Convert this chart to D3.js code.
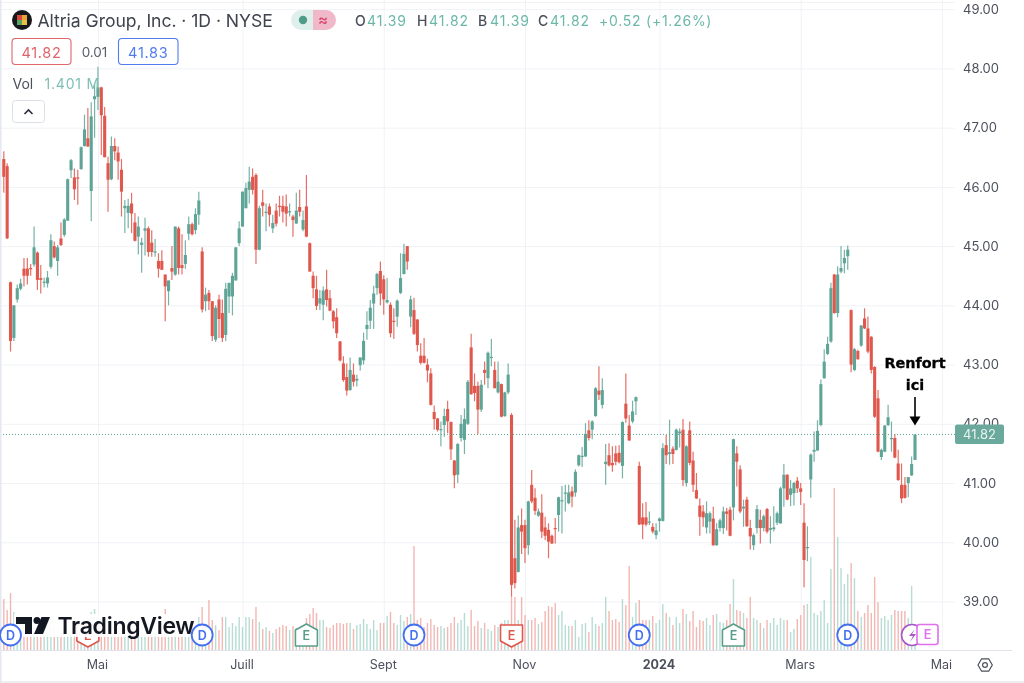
<!DOCTYPE html>
<html><head><meta charset="utf-8">
<script src="https://cdnjs.cloudflare.com/ajax/libs/d3/7.8.5/d3.min.js"></script>
<style>html,body{margin:0;padding:0;background:#fff;overflow:hidden}svg{display:block;filter:blur(0.4px)}text{font-family:Inter,"Noto Sans",sans-serif}</style>
</head><body><svg id="c" width="1024" height="683"></svg>
<script>
const opens=[46.47,46.35,44.39,43.45,44.1,44.28,44.62,44.62,44.63,44.69,44.89,44.46,44.38,44.37,44.65,45.0,44.75,45.13,45.19,45.43,
46.28,46.16,46.16,46.3,46.69,46.82,45.93,47.48,47.52,47.68,47.2,46.4,46.13,46.69,46.58,46.29,45.64,45.56,45.72,45.4,
45.16,45.02,45.26,45.3,45.06,44.9,44.75,44.75,44.52,44.24,44.63,44.52,45.3,44.68,44.7,45.21,45.37,45.27,45.53,44.91,
44.07,44.21,44.07,43.42,44.1,43.87,43.5,44.15,44.15,44.42,45.05,45.33,45.64,45.95,46.17,46.2,44.94,45.74,45.56,45.67,
45.3,45.6,45.68,45.68,45.67,45.57,45.5,45.38,45.66,45.28,45.67,45.05,44.5,44.27,44.03,44.01,44.27,44.12,43.9,43.8,
43.39,43.02,42.79,42.57,42.83,42.73,42.99,43.07,43.6,43.74,44.03,44.29,44.58,44.44,44.05,44.01,43.74,43.81,44.21,44.53,
45.0,43.81,43.92,43.76,43.15,43.15,43.0,42.85,42.2,42.09,41.9,41.98,42.25,42.03,41.38,41.14,41.76,41.73,42.0,43.29,
42.64,42.64,42.24,42.91,42.77,43.11,42.91,42.53,42.67,42.13,42.53,42.15,39.73,39.5,40.29,40.29,39.95,40.97,40.75,40.45,
40.5,40.25,40.21,40.11,40.24,40.46,40.7,40.82,40.66,40.86,40.84,41.3,41.44,41.45,41.89,41.9,42.13,42.56,42.32,41.32,
41.47,41.34,41.5,41.51,41.29,42.34,41.97,42.04,42.38,41.29,40.42,40.42,40.33,40.26,40.12,40.36,40.36,41.64,41.49,41.58,
41.56,41.84,41.9,41.0,41.89,41.38,40.88,40.62,40.52,40.25,40.35,40.4,39.95,40.24,40.24,40.52,40.55,40.59,41.5,41.23,
40.57,40.72,40.24,39.95,40.24,40.38,40.24,40.56,40.21,40.22,40.33,40.32,40.91,41.14,40.8,40.83,41.04,40.91,40.33,39.9,
41.06,41.53,41.55,41.98,42.77,43.18,43.39,44.52,43.87,44.57,44.71,44.83,43.92,42.91,43.23,43.32,43.78,43.61,43.47,42.96,
42.43,41.44,41.53,41.98,41.74,41.76,41.33,40.97,40.97,41.0,41.13,41.39];
const highs=[46.6,46.4,44.4,44.0,44.35,44.45,44.8,44.8,44.7,45.33,44.91,44.68,44.47,44.58,45.2,45.08,45.02,45.4,45.47,46.14,
46.47,46.31,46.29,46.68,47.22,47.33,47.43,47.75,48.03,47.69,47.35,46.51,46.85,46.82,46.68,46.47,45.78,45.8,45.9,45.56,
45.5,45.14,45.48,45.33,45.27,45.12,44.88,44.93,44.52,44.42,45.0,45.33,45.33,45.2,45.1,45.5,45.4,45.64,45.92,44.98,
44.3,44.26,44.07,44.0,44.18,44.1,44.38,44.38,44.55,44.98,45.42,45.92,46.07,46.34,46.31,46.23,45.68,45.95,45.72,45.72,
45.53,45.72,45.85,45.85,45.87,45.72,45.53,45.9,45.95,45.6,46.2,45.06,44.57,44.5,44.26,44.32,44.6,44.26,43.92,43.95,
43.4,43.14,43.02,43.12,43.02,42.83,43.12,43.54,43.9,44.09,44.33,44.55,44.74,44.51,44.46,44.05,43.95,44.1,44.88,45.04,
45.0,44.16,44.13,43.77,43.36,43.45,43.1,42.94,42.31,42.1,42.04,42.26,42.39,42.04,41.39,41.67,42.15,42.26,42.74,43.52,
42.85,42.71,42.74,43.05,43.22,43.43,43.05,43.05,42.68,42.54,43.02,42.18,40.38,40.45,40.57,40.38,40.7,41.22,40.91,40.57,
40.81,40.43,40.32,40.13,40.41,40.77,40.95,40.97,40.97,40.94,41.23,41.48,41.61,42.01,42.06,42.06,42.62,42.97,42.77,41.66,
41.67,41.62,41.63,41.64,42.04,42.85,42.15,42.39,42.46,41.36,40.66,40.68,40.52,40.32,40.32,40.42,41.67,41.81,42.07,41.62,
41.92,41.92,42.08,41.64,42.04,41.53,41.17,40.74,40.63,40.69,40.52,40.6,40.32,40.4,40.6,40.58,40.6,41.75,41.62,41.3,
40.72,40.77,40.38,40.15,40.63,40.55,40.47,40.58,40.44,40.61,40.52,40.94,41.32,41.15,41.05,41.02,41.1,41.0,40.66,40.27,
41.5,41.87,42.06,42.75,43.26,43.47,44.38,44.53,44.66,45.0,44.94,45.01,43.93,43.28,43.25,43.67,43.95,43.81,43.48,42.97,
42.57,41.58,41.98,42.32,42.04,41.83,41.56,41.33,41.1,41.1,41.45,41.82];
const lows=[45.9,45.12,43.22,43.4,44.05,44.25,44.32,44.35,44.5,44.65,44.26,44.2,44.3,44.3,44.62,44.79,44.5,45.0,45.16,45.43,
46.15,45.78,45.7,46.29,46.68,46.68,45.42,46.83,47.3,46.54,46.5,45.58,46.11,46.45,46.12,45.5,45.22,45.3,45.22,45.08,
44.86,44.55,44.84,44.82,44.82,44.82,44.47,44.6,43.73,44.0,44.43,44.5,44.52,44.52,44.62,45.1,45.18,45.2,45.36,43.88,
43.9,43.92,43.4,43.38,43.45,43.38,43.4,43.87,43.83,44.42,45.0,45.33,45.64,45.72,45.87,44.7,44.93,45.5,45.25,45.33,
45.22,45.33,45.5,45.4,45.33,45.5,45.16,45.38,45.5,45.25,45.15,44.57,44.12,43.92,43.92,43.75,43.98,43.9,43.61,43.45,
43.05,42.71,42.48,42.56,42.63,42.63,42.9,43.0,43.42,43.6,43.6,44.18,44.0,43.84,44.03,43.46,43.43,43.64,44.19,44.52,
44.6,43.63,43.5,43.22,43.0,43.02,42.7,42.31,41.9,41.87,41.62,41.78,41.84,41.39,40.91,41.0,41.7,41.49,41.98,42.49,
42.38,41.83,42.2,42.66,42.6,42.97,42.6,42.51,42.11,42.12,42.5,39.08,39.22,39.49,39.8,39.65,39.79,40.66,40.46,40.43,
40.07,40.04,39.73,39.97,39.98,40.18,40.15,40.52,40.64,40.59,40.77,41.28,41.27,41.44,41.72,41.74,42.12,42.4,42.26,40.97,
41.28,41.19,41.3,41.33,41.08,42.02,41.71,42.01,42.15,40.29,40.05,40.27,40.29,40.15,40.05,40.18,40.35,41.32,41.31,41.32,
41.55,41.6,40.95,40.94,41.3,40.85,40.73,40.11,40.26,40.15,40.15,39.94,39.94,40.18,40.14,40.2,40.1,40.37,40.94,40.49,
40.26,40.26,39.88,39.87,40.15,39.98,40.18,40.15,39.98,40.18,40.29,40.31,40.6,40.71,40.61,40.62,40.83,40.63,39.24,39.68,
40.75,41.36,41.54,41.96,42.76,43.16,43.37,43.86,43.8,44.54,44.54,44.6,42.87,42.89,43.08,43.3,43.6,43.19,42.85,42.1,
41.52,41.39,41.52,41.96,41.53,41.42,41.04,40.66,40.74,40.76,41.12,41.39];
const closes=[46.17,45.13,43.4,44.0,44.29,44.37,44.5,44.5,44.61,44.98,44.43,44.43,44.4,44.47,45.1,44.81,44.98,45.02,45.45,46.13,
46.45,45.96,46.14,46.67,46.97,46.68,47.19,47.53,47.68,47.21,46.5,46.12,46.69,46.6,46.43,45.92,45.68,45.68,45.55,45.09,
45.33,45.06,45.3,44.9,44.9,44.91,44.62,44.6,44.32,44.42,44.57,45.33,44.63,44.63,44.85,45.37,45.2,45.54,45.77,43.93,
44.18,44.07,43.48,43.96,43.77,43.45,44.28,44.38,44.5,44.98,45.3,45.92,45.98,46.09,45.95,44.94,45.64,45.68,45.58,45.53,
45.39,45.38,45.66,45.58,45.55,45.59,45.44,45.6,45.58,45.44,45.16,44.57,44.29,43.99,44.12,44.25,44.09,43.91,43.73,43.53,
43.07,42.74,42.56,42.91,42.71,42.76,43.12,43.4,43.67,43.96,44.2,44.53,44.2,44.1,44.09,43.53,43.72,44.08,44.46,44.87,
44.74,44.1,43.52,43.33,43.03,43.03,42.9,42.32,42.08,41.9,41.91,42.13,42.04,41.57,41.13,41.66,42.0,42.08,42.71,42.5,
42.52,42.24,42.66,42.86,43.2,43.13,42.6,42.71,42.12,42.53,42.83,39.28,39.31,40.25,40.18,39.9,40.69,40.69,40.53,40.52,
40.18,40.11,40.01,39.98,40.23,40.76,40.71,40.84,40.84,40.77,41.19,41.47,41.46,41.83,41.76,42.04,42.6,42.49,42.57,41.36,
41.3,41.3,41.36,41.35,42.03,42.09,41.72,42.21,42.45,40.3,40.3,40.3,40.35,40.18,40.2,40.4,41.59,41.47,41.52,41.49,
41.9,41.87,41.05,41.62,41.34,40.97,40.74,40.43,40.42,40.49,40.49,39.95,40.22,40.37,40.52,40.48,40.11,41.74,41.36,40.52,
40.6,40.27,40.1,40.12,40.56,40.24,40.44,40.18,40.24,40.25,40.49,40.91,41.14,40.72,40.91,41.0,40.91,40.85,39.7,39.92,
41.48,41.56,41.88,42.67,43.05,43.35,44.29,43.87,44.52,44.63,44.8,44.94,43.0,43.26,43.09,43.66,43.61,43.22,42.91,42.12,
41.53,41.56,41.97,42.11,41.76,41.43,41.05,40.74,40.75,41.1,41.32,41.82];
const volumes=[10.2,8,11.4,7.6,5,5,4.6,4.8,5,4.6,4.8,5.2,4.4,5,5,4.6,4.4,4.2,4.6,4.4,
4.8,4.4,4.6,5,5,5,7.6,8.2,4.6,4.2,4.4,4.6,4.8,4.2,4.4,4.6,4.2,4.8,4.4,4.2,
4.4,4.6,4.8,4.4,4.2,4.6,4.8,4.4,8.2,7.2,5.6,5.4,5.4,5.2,5.2,5.2,5.2,5.2,6.6,8.6,
4.8,10,6,5,4,6.6,6.6,4.6,5.4,4.8,6.6,4.6,6.6,6.6,6.2,8.6,5.6,4.2,4.6,3.8,
3.4,4.2,4.6,5,4.8,4,4.8,4.4,4.4,4.4,6.4,7.2,8.4,7.4,6,6,4.6,4.4,5,5.4,
5.4,5.2,5.4,5.4,4.2,5,5.2,6.2,5.2,4.2,6,4,5.4,5.4,6.8,7.6,5.4,5,7,5.8,
6.6,7.2,20.8,6,6.4,4.6,5.4,6.2,5,4.6,4.8,4.4,4.6,5.4,6.6,5.4,6,7.4,4.8,8,
4.8,5.8,4.4,5.4,4.2,3.8,5,4.6,5.4,6,6,10.6,
10.6,6,10.6,7,6,6,6.4,5.2,5.6,7.8,8.8,8.6,9.4,7,7.8,5,4.8,4.8,6,2.6,
5.2,5.4,3.6,6.6,5.2,4.8,5.4,10.6,7.8,6,6.2,5.6,10.2,9,16.8,6.6,9.4,10,6,6,
6,6.8,5.4,6,9.2,7.4,6.6,5,6.6,5.4,8.2,7.2,5.8,7.8,4.6,6,5.8,6.4,5,7,
7.2,5.6,5.4,6,9.2,14.2,8,7.8,7.4,6.4,10.6,6.4,6,5.4,4.4,6,5.4,6.4,5,6.4,
6,6,3.6,4.2,6.2,7,9,9.2,18.6,7.4,7,7.8,10,5.4,16.2,32.4,22.6,16.4,13.2,15.2,
17.4,14.4,7.8,6.6,7.4,9,7.4,14.6,9.6,6.4,6.8,6,7,8,7.8,7.8,7.8,6.4,12.8,1.4];
const priceTicks=[39,40,41,42,43,44,45,46,47,48,49];
const timeTickBars=[28,71,113,155,195,237,279];
const timeTickLabels=["Mai","Juill","Sept","Nov","2024","Mars","Mai"];
const lastPrice=41.82;
const dividendBars=[2,59,122,189,251];
const earningsUpBars=[90,217];
const earningsDownBars=[25,151];
const legendValues=[["O","41.39"],["H","41.82"],["B","41.39"],["C","41.82"]];

const RED="#e0574d",GREEN="#5fa597",TXT="#4c505c";
const svg=d3.select("#c");
const W=955,BASE=650;
const n=opens.length;
const x=d3.scaleLinear().domain([0,n-1]).range([3.8,915]);
const y=d3.scaleLinear().domain([39,49]).range([601.5,9.2]);
const yv=d3.scaleLinear().domain([0,32.4]).range([BASE,488]);
const idx=d3.range(n);
const col=i=>closes[i]>=opens[i]?GREEN:RED;

svg.append("rect").attr("width",1024).attr("height",683).attr("fill","#fff");
// grid
const gy=svg.append("g").call(d3.axisRight(y).tickValues(priceTicks).tickSize(W).tickFormat(""));
gy.select(".domain").remove();gy.selectAll("line").attr("stroke","#f0f2f6");
const gx=svg.append("g").attr("transform","translate(0,650)").call(d3.axisTop(x).tickValues(timeTickBars).tickSize(650).tickFormat(""));
gx.select(".domain").remove();gx.selectAll("line").attr("stroke","#f0f2f6");
svg.append("line").attr("x1",0).attr("x2",W).attr("y1",2.5).attr("y2",2.5).attr("stroke","#f0f2f6");

// volume
svg.append("g").selectAll("rect").data(idx).join("rect")
 .attr("x",i=>x(i)-0.7).attr("width",1.4).attr("y",i=>yv(volumes[i])).attr("height",i=>BASE-yv(volumes[i]))
 .attr("fill",i=>closes[i]>=opens[i]?"#a9d6cd":"#f0aaa5").attr("opacity",.85);
// candles
svg.append("g").selectAll("line").data(idx).join("line")
 .attr("x1",i=>x(i)).attr("x2",i=>x(i)).attr("y1",i=>y(highs[i])).attr("y2",i=>y(lows[i]))
 .attr("stroke",col).attr("stroke-width",1.2).attr("opacity",.85);
svg.append("g").selectAll("rect").data(idx).join("rect")
 .attr("x",i=>x(i)-1.55).attr("width",3.1)
 .attr("y",i=>y(Math.max(opens[i],closes[i])))
 .attr("height",i=>Math.max(1.2,Math.abs(y(opens[i])-y(closes[i]))))
 .attr("fill",col);

// price line
svg.append("line").attr("x1",0).attr("x2",W).attr("y1",y(lastPrice)).attr("y2",y(lastPrice))
 .attr("stroke",GREEN).attr("stroke-width",1).attr("stroke-dasharray","1 2");

// axes
const ay=svg.append("g").attr("transform",`translate(${W},0)`).call(d3.axisRight(y).tickValues(priceTicks).tickSize(0).tickPadding(8).tickFormat(d3.format(".2f")));
ay.select(".domain").remove();ay.selectAll("text").attr("fill",TXT).attr("font-size",13).attr("font-family","Inter");
const ax=svg.append("g").attr("transform","translate(-1,650)").call(d3.axisBottom(x).tickValues(timeTickBars).tickSize(0).tickPadding(10).tickFormat((d,i)=>timeTickLabels[i]));
ax.select(".domain").remove();
ax.selectAll("text").attr("fill",TXT).attr("font-size",12.5).attr("font-family","Inter").attr("font-weight",(d,i)=>timeTickLabels[i]==="2024"?700:400);
svg.append("line").attr("x1",0).attr("x2",1012).attr("y1",650.5).attr("y2",650.5).attr("stroke","#e0e3eb");
svg.append("rect").attr("x",0).attr("y",681).attr("width",1024).attr("height",2).attr("fill","#eceef4");
svg.append("rect").attr("x",0).attr("y",0).attr("width",1.5).attr("height",683).attr("fill","#e6e8f1");

// price tag
svg.append("rect").attr("x",955).attr("y",y(lastPrice)-10).attr("width",49).attr("height",19.5).attr("rx",2).attr("fill","#6aa99b");
svg.append("text").attr("x",963).attr("y",y(lastPrice)+4.5).attr("fill","#e8f3f0").attr("font-size",13).text(d3.format(".2f")(lastPrice));

// event markers
const EV=636;
const mk=svg.append("g");
const lab=(px,py,t,c,g)=>(g||mk).append("text").attr("x",px).attr("y",py+4.5).attr("text-anchor","middle").attr("font-size",12.5).attr("font-weight",600).attr("fill",c).text(t);
const downMark=(g,b)=>{const c=RED,px=x(b);
 g.append("path").attr("d",`M${px-11} ${EV-11}H${px+11}V${EV+5}L${px} ${EV+11}L${px-11} ${EV+5}Z`).attr("fill","#fff").attr("stroke",c).attr("stroke-width",1.6).attr("stroke-linejoin","round");
 lab(px,EV-1,"E",c,g);};
const under=svg.append("g");
downMark(under,earningsDownBars[0]);

// TradingView watermark
const wm=svg.append("g");
wm.append("rect").attr("x",14).attr("y",614).attr("width",182).attr("height",23).attr("fill","#fff").attr("opacity",.92);
wm.append("path").attr("d","M16 617h16v17h-7v-10h-9z").attr("fill","#131722");
wm.append("circle").attr("cx",37).attr("cy",620.5).attr("r",3.5).attr("fill","#131722");
wm.append("path").attr("d","M41.5 617h8.5l-7 17h-9z").attr("fill","#131722");
wm.append("text").attr("x",57.5).attr("y",633.5).attr("font-size",23).attr("font-weight",600).attr("fill","#131722").attr("letter-spacing",-0.3).text("TradingView");
mk.raise();

downMark(mk,earningsDownBars[1]);
dividendBars.forEach(b=>{const px=x(b);
 mk.append("circle").attr("cx",px).attr("cy",EV-1).attr("r",10.5).attr("fill","#fff").attr("stroke","#4470f0").attr("stroke-width",1.8);
 lab(px,EV-1,"D","#4470f0");});
earningsUpBars.forEach(b=>{const c="#5a9e8c",px=x(b);
 mk.append("path").attr("d",`M${px-11} ${EV+10}H${px+11}V${EV-6}L${px} ${EV-12}L${px-11} ${EV-6}Z`).attr("fill","#fff").attr("stroke",c).attr("stroke-width",1.6).attr("stroke-linejoin","round");
 lab(px,EV-1,"E",c);});
mk.append("circle").attr("cx",912).attr("cy",635).attr("r",10.5).attr("fill","#fff").attr("stroke","#a657c8").attr("stroke-width",1.6);
mk.append("path").attr("d","M915 629l-6 7h4l-3 6 6-8h-4z").attr("fill","#a657c8");
mk.append("rect").attr("x",917).attr("y",624.5).attr("width",21).attr("height",20).attr("rx",2.5).attr("fill","#fff").attr("stroke","#e070ee").attr("stroke-width",1.6);
lab(927.5,634.5,"E","#e070ee");

// header
const h=svg.append("g");
h.append("circle").attr("cx",22).attr("cy",20).attr("r",10).attr("fill","#17181c");
[["#d9483b",17,15],["#e8a33a",22,15],["#5aa469",17,20],["#e6c23f",22,20]].forEach(([c,a,b])=>h.append("rect").attr("x",a).attr("y",b).attr("width",5).attr("height",5).attr("fill",c));
h.append("text").attr("x",37.5).attr("y",26.5).attr("font-size",17.6).attr("fill","#3f434e").attr("letter-spacing",-0.05).text("Altria Group, Inc. · 1D · NYSE");
h.append("path").attr("d","M313 10H301a10 10 0 0 0 0 20H313z").attr("fill","#dff0ec");
h.append("path").attr("d","M313 10H326a10 10 0 0 1 0 20H313z").attr("fill","#efb9c9");
h.append("circle").attr("cx",303).attr("cy",20).attr("r",4.2).attr("fill","#4f9c88");
h.append("text").attr("x",323).attr("y",25).attr("text-anchor","middle").attr("font-size",15).attr("font-weight",600).attr("fill","#d8456f").text("≈");
const legendX=[355,417,478,538];
legendValues.forEach(([k,v],i)=>{
 h.append("text").attr("x",legendX[i]).attr("y",25.5).attr("font-size",14).attr("font-weight",500).attr("fill","#4c505c").text(k);
 h.append("text").attr("x",legendX[i]+12).attr("y",25.5).attr("font-size",14).attr("letter-spacing",0.9).attr("fill","#6bb8a8").text(v);
});
h.append("text").attr("x",599).attr("y",25.5).attr("font-size",14).attr("letter-spacing",0.75).attr("fill","#6bb8a8").text("+0.52 (+1.26%)");
const box=(bx,w,c,s)=>{h.append("rect").attr("x",bx+.5).attr("y",38.5).attr("width",w).attr("height",26).attr("rx",3.5).attr("fill","#fff").attr("stroke",c).attr("stroke-width",1.1);
 h.append("text").attr("x",bx+w/2+.5).attr("y",57.5).attr("text-anchor","middle").attr("font-size",14.5).attr("letter-spacing",0.7).attr("fill",c).text(s);};
box(11.5,59,"#e0646a","41.82");
h.append("text").attr("x",94.5).attr("y",57).attr("text-anchor","middle").attr("font-size",13.5).attr("fill","#5a5e69").text("0.01");
box(118,59.5,"#4f7cf0","41.83");
h.append("text").attr("x",12.5).attr("y",89).attr("font-size",14).attr("fill","#4c505c").text("Vol");
h.append("text").attr("x",44.5).attr("y",89).attr("font-size",14).attr("letter-spacing",0.8).attr("fill","#7cc0b2").text("1.401 M");
h.append("rect").attr("x",12.5).attr("y",100.5).attr("width",32).attr("height",22).attr("rx",3).attr("fill","#fff").attr("stroke","#dcdfe6");
h.append("path").attr("d","M24.5 114l4-4 4 4").attr("fill","none").attr("stroke","#2a2e39").attr("stroke-width",1.6);

// annotation
const an=svg.append("g").attr("text-anchor","middle").attr("fill","#000");
an.append("text").attr("x",915).attr("y",368).attr("font-size",14.4).attr("font-weight",700).attr("stroke","#000").attr("stroke-width",.3).style("font-family","'DejaVu Sans'").text("Renfort");
an.append("text").attr("x",915).attr("y",390).attr("font-size",14.4).attr("font-weight",700).attr("stroke","#000").attr("stroke-width",.3).style("font-family","'DejaVu Sans'").text("ici");
an.append("line").attr("x1",915).attr("x2",915).attr("y1",397).attr("y2",420).attr("stroke","#000").attr("stroke-width",1.6);
an.append("path").attr("d","M909.5 416.5H920.5L915 425.5Z");

// settings icon
svg.append("path").attr("d","M978 665l3.6-6.2h7.1l3.6 6.2-3.6 6.2h-7.1z").attr("fill","none").attr("stroke","#4c505c").attr("stroke-width",1.2);
svg.append("circle").attr("cx",985).attr("cy",665).attr("r",2.4).attr("fill","none").attr("stroke","#4c505c").attr("stroke-width",1.2);
</script></body></html>
